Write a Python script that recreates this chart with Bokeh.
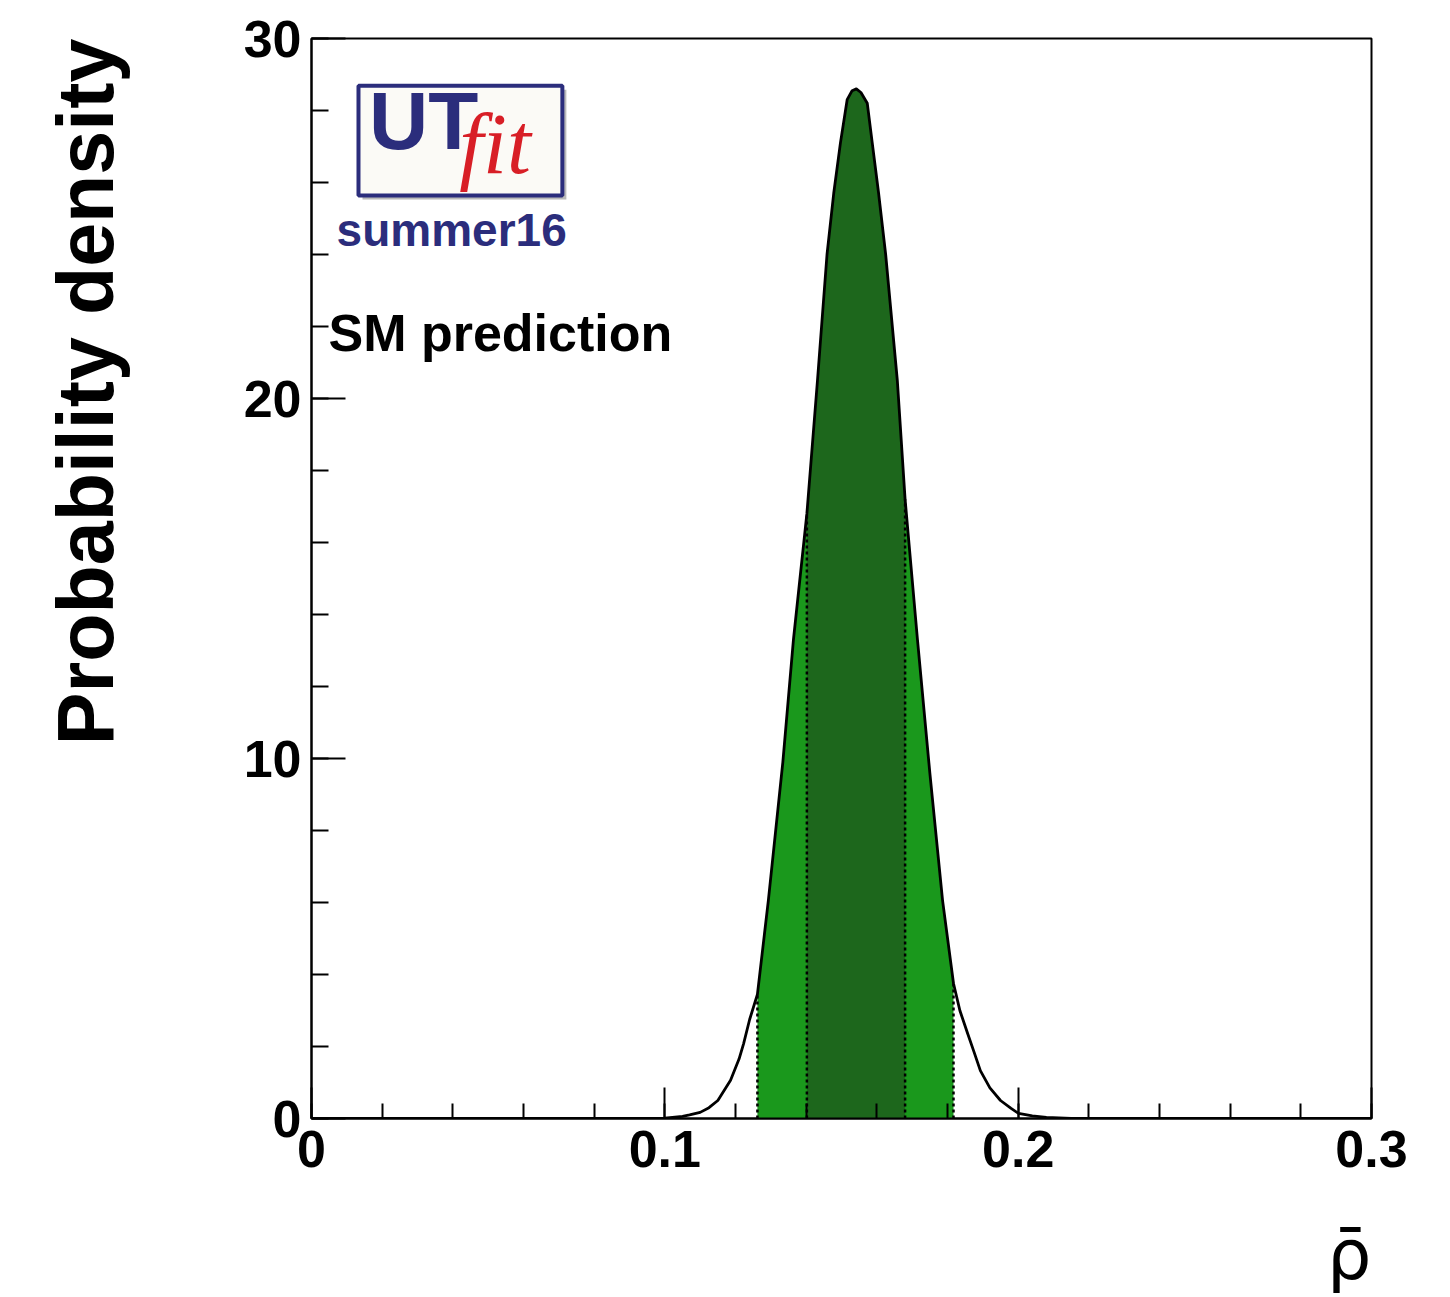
import numpy as np
from bokeh.plotting import figure
from bokeh.models import Range1d, FixedTicker, Label, BoxAnnotation, Title
from bokeh.embed import file_html
from bokeh.resources import INLINE

# ---- data ----
rho = [0.0, 0.090, 0.100, 0.105, 0.107, 0.110, 0.1125, 0.115, 0.1186, 0.121, 0.1223,
       0.124, 0.1262, 0.1293, 0.1334, 0.1364, 0.1402, 0.1432, 0.1459, 0.1478, 0.1497,
       0.1516, 0.1530, 0.1542, 0.1555, 0.1573, 0.1587, 0.1605, 0.1625, 0.1658, 0.1680,
       0.1715, 0.1750, 0.1786, 0.1817, 0.1835, 0.1857, 0.1875, 0.1893, 0.192, 0.1950,
       0.198, 0.2001, 0.204, 0.2080, 0.2150, 0.3]
dens = [0.0, 0.0, 0.01, 0.06, 0.1, 0.17, 0.3, 0.5, 1.06, 1.65, 2.08,
        2.75, 3.45, 6.06, 9.9, 13.3, 16.8, 20.5, 24.0, 25.7, 27.1,
        28.3, 28.55, 28.6, 28.5, 28.2, 27.1, 25.7, 24.0, 20.5, 17.2,
        13.3, 9.6, 6.06, 3.75, 3.0, 2.36, 1.85, 1.33, 0.85, 0.5,
        0.28, 0.14, 0.07, 0.03, 0.0, 0.0]
interval_68 = [0.1402, 0.1680]
interval_95 = [0.1262, 0.1817]

x_ticks = [0.0, 0.1, 0.2, 0.3]
x_tick_labels = ["0", "0.1", "0.2", "0.3"]
x_minor = [0.02 * i for i in range(16)]
y_ticks = [0, 10, 20, 30]
y_minor = [2 * i for i in range(16)]

LIGHT = "#1a981c"
DARK = "#1d671c"
NAVY = "#2b2d7c"
FONT = "Liberation Sans"

rho_a = np.array(rho)
dens_a = np.array(dens)

p = figure(width=1450, height=1297, x_range=Range1d(0, 0.3), y_range=Range1d(0, 30),
           output_backend="svg", toolbar_location=None,
           min_border_left=311, min_border_right=79, min_border_top=38, min_border_bottom=179)
p.background_fill_color = "white"
p.border_fill_color = "white"
p.outline_line_color = "black"
p.outline_line_width = 2
p.xgrid.visible = False
p.ygrid.visible = False

# bands
for (lo, hi), col in ((interval_95, LIGHT), (interval_68, DARK)):
    m = (rho_a >= lo - 1e-9) & (rho_a <= hi + 1e-9)
    p.varea(x=rho_a[m], y1=np.zeros(m.sum()), y2=dens_a[m], fill_color=col, fill_alpha=1)

# curve
p.line(rho, dens, line_color="black", line_width=2.8, line_join="round")

# dotted edges
edges = interval_95 + interval_68
edge_y = [dens[rho.index(e)] for e in edges]
p.segment(x0=edges, y0=[0] * len(edges), x1=edges, y1=edge_y,
          line_color="black", line_width=2.5, line_dash="3 3")

# axes
p.xaxis.ticker = FixedTicker(ticks=x_ticks, minor_ticks=x_minor)
p.xaxis.major_label_overrides = {t: l for t, l in zip(x_ticks, x_tick_labels)}
p.yaxis.ticker = FixedTicker(ticks=y_ticks, minor_ticks=y_minor)
for ax in (p.xaxis[0], p.yaxis[0]):
    ax.major_tick_out = 0
    ax.minor_tick_out = 0
    ax.axis_line_width = 2
    ax.major_tick_line_width = 2
    ax.minor_tick_line_width = 2
    ax.major_label_text_font = FONT
    ax.major_label_text_font_style = "bold"
    ax.major_label_text_font_size = "52px"
    ax.major_label_text_color = "black"
p.xaxis.major_tick_in = 31
p.xaxis.minor_tick_in = 15
p.xaxis.major_label_standoff = 12
p.yaxis.major_tick_in = 34
p.yaxis.minor_tick_in = 17
p.yaxis.major_label_standoff = 10

# axis titles (ROOT style: at the far ends); padding keeps them away from the tick labels
p.add_layout(Title(text="Probability density", align="right", text_font=FONT,
                   text_font_style="bold", text_font_size="79px", text_color="black",
                   standoff=10, offset=0,
                   padding=dict(left=0, right=0, top=0, bottom=106)), "left")
p.add_layout(Title(text="ρ\u0304", align="right", text_font="DejaVu Sans",
                   text_font_style="normal", text_font_size="70px", text_color="black",
                   standoff=0, offset=0,
                   padding=dict(left=0, right=0, top=42, bottom=0)), "below")

# logo
dx, dy = 4 / 3533.3, 4 / 36.0
p.add_layout(BoxAnnotation(left=0.0133 + dx, right=0.0710 + dx, top=28.69 - dy, bottom=25.64 - dy,
                           fill_color="#8a8a8a", fill_alpha=0.6, line_alpha=0))
p.add_layout(BoxAnnotation(left=0.0133, right=0.0710, top=28.69, bottom=25.64,
                           fill_color="#fbfaf6", fill_alpha=1, line_color=NAVY,
                           line_alpha=1, line_width=4))
p.add_layout(Label(x=0.0163, y=27.72, text="UT", text_font=FONT, text_font_style="bold",
                   text_font_size="82px", text_color=NAVY, text_baseline="middle"))
p.add_layout(Label(x=0.0418, y=27.08, text="fit", text_font="Liberation Serif",
                   text_font_style="italic", text_font_size="86px", text_color="#d81e26",
                   text_baseline="middle"))
p.add_layout(Label(x=0.0071, y=24.68, text="summer16", text_font=FONT, text_font_style="bold",
                   text_font_size="46px", text_color=NAVY, text_baseline="middle"))
p.add_layout(Label(x=0.0048, y=21.83, text="SM prediction", text_font=FONT,
                   text_font_style="bold", text_font_size="52px", text_color="black",
                   text_baseline="middle"))

open("out.html", "w").write(file_html(p, INLINE))
